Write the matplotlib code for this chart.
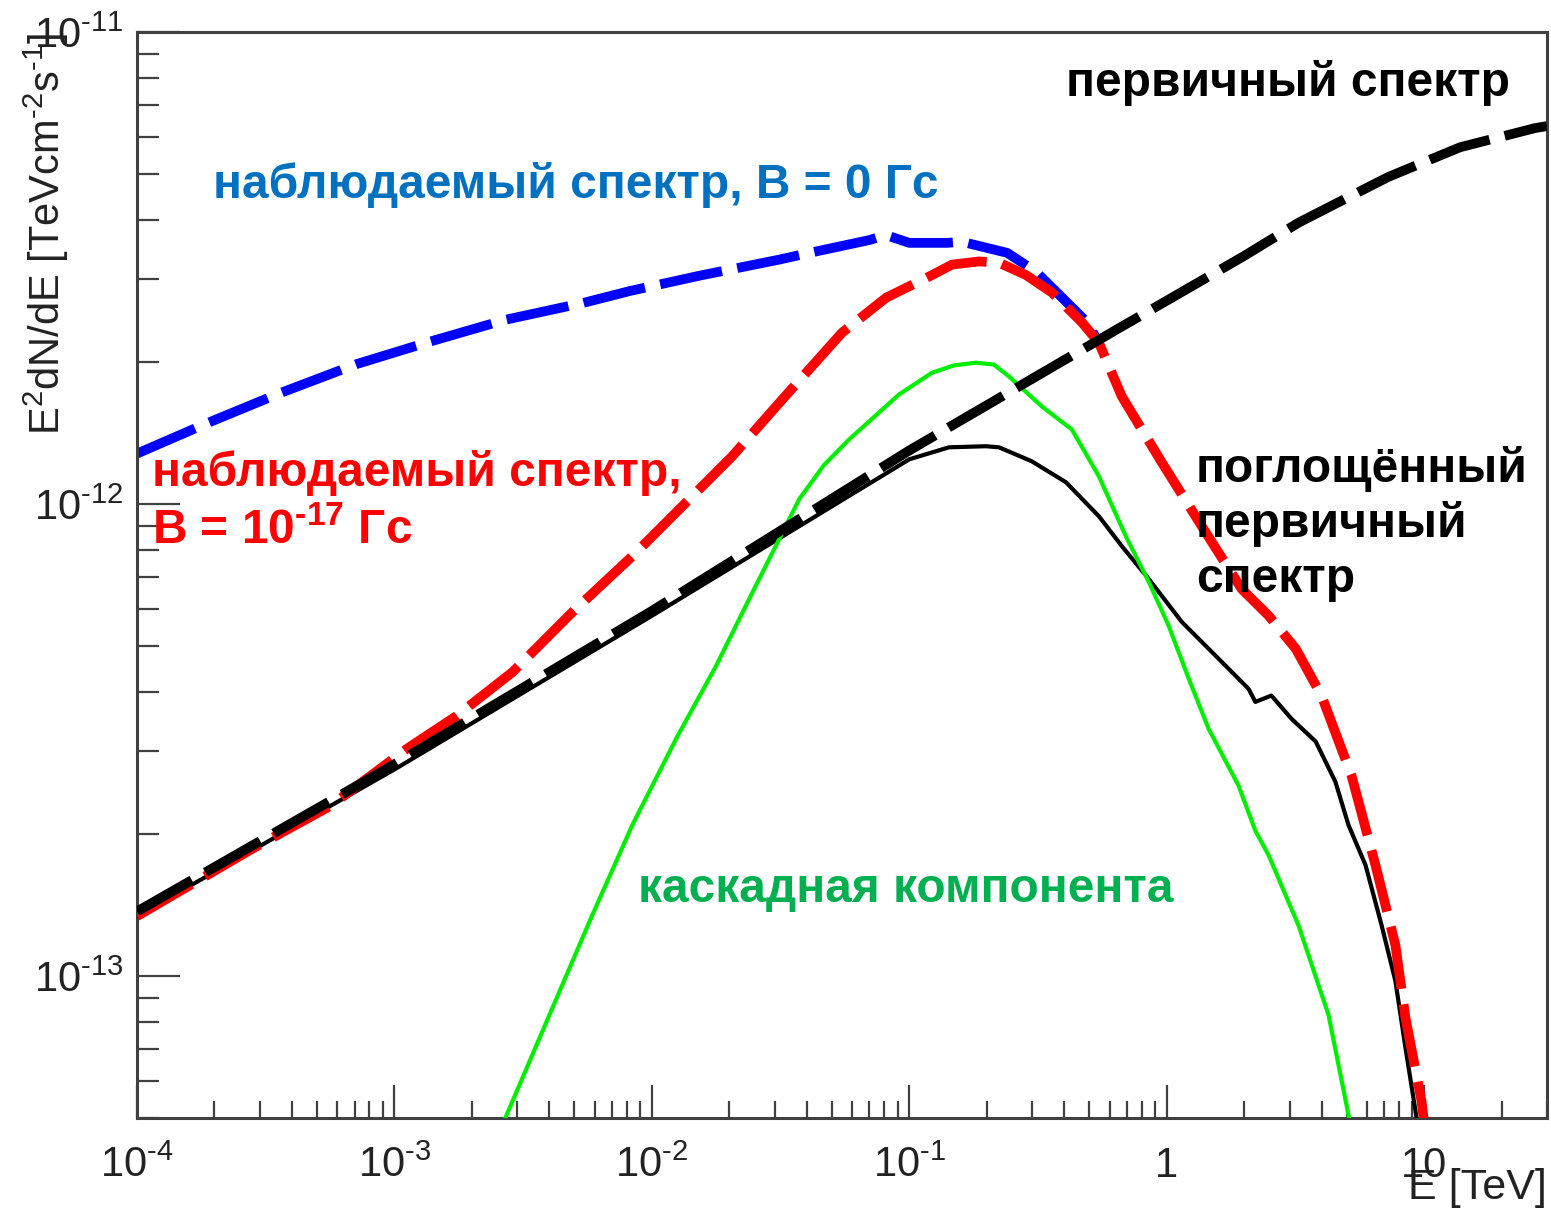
import numpy as np
import matplotlib
matplotlib.use('Agg')
import matplotlib.pyplot as plt
from matplotlib.ticker import LogLocator, NullFormatter

plt.rcParams['font.family'] = ['Liberation Sans', 'DejaVu Sans']
plt.rcParams['mathtext.fontset'] = 'custom'
plt.rcParams['mathtext.rm'] = 'Liberation Sans'
plt.rcParams['mathtext.it'] = 'Liberation Sans:italic'
plt.rcParams['mathtext.bf'] = 'Liberation Sans:bold'
plt.rcParams['mathtext.default'] = 'regular'

# ---------------- data (E in TeV, E^2 dN/dE in TeV cm^-2 s^-1) ----------------
primary_E = [1e-4, 1e-3, 1e-2, 0.1, 0.634, 1.0, 2.0, 3.25, 4.44, 7.26, 13.8, 27.0, 30.0]
primary_F = [1.37e-13, 2.81e-13, 5.94e-13, 1.30e-12, 2.34e-12, 2.70e-12, 3.36e-12,
             3.95e-12, 4.31e-12, 4.94e-12, 5.71e-12, 6.27e-12, 6.33e-12]

absorbed_E = [1e-4, 1e-3, 1e-2, 0.1, 0.1426, 0.1985, 0.223, 0.299, 0.406, 0.545,
              0.669, 0.852, 1.144, 1.55, 2.08, 2.21, 2.55, 3.05, 3.79, 4.52,
              5.08, 5.92, 6.83, 7.73, 8.46, 9.25, 9.6]
absorbed_F = [1.34e-13, 2.74e-13, 5.80e-13, 1.245e-12, 1.32e-12, 1.327e-12, 1.32e-12,
              1.233e-12, 1.113e-12, 9.43e-13, 8.15e-13, 6.94e-13, 5.63e-13, 4.77e-13,
              4.06e-13, 3.81e-13, 3.93e-13, 3.51e-13, 3.14e-13, 2.58e-13, 2.09e-13,
              1.717e-13, 1.282e-13, 9.76e-14, 7.04e-14, 5.18e-14, 4.5e-14]

cascade_E = [2.5e-3, 2.73e-3, 4.00e-3, 5.87e-3, 8.40e-3, 0.01245, 0.01779, 0.02389,
             0.03735, 0.0466, 0.0584, 0.0912, 0.1226, 0.149, 0.1815, 0.213, 0.2437,
             0.3274, 0.428, 0.545, 0.693, 0.852, 1.018, 1.217, 1.455, 1.902, 2.21,
             2.49, 3.25, 4.25, 5.08, 5.3]
cascade_F = [4.5e-14, 5.08e-14, 8.27e-14, 1.346e-13, 2.09e-13, 3.19e-13, 4.55e-13,
             6.30e-13, 1.025e-12, 1.21e-12, 1.372e-12, 1.708e-12, 1.90e-12, 1.968e-12,
             1.995e-12, 1.977e-12, 1.866e-12, 1.611e-12, 1.44e-12, 1.146e-12, 8.56e-13,
             6.84e-13, 5.52e-13, 4.27e-13, 3.34e-13, 2.53e-13, 2.03e-13, 1.80e-13,
             1.28e-13, 8.27e-14, 5.08e-14, 4.5e-14]

obs_B17_E = [1e-4, 2.74e-4, 5.61e-4, 1.117e-3, 1.746e-3, 2.88e-3, 4.92e-3, 8.40e-3,
             0.01313, 0.0205, 0.0321, 0.0548, 0.0813, 0.1226, 0.1466, 0.1865, 0.223,
             0.284, 0.358, 0.468, 0.545, 0.669, 0.956, 1.368, 1.955, 2.49, 3.17, 3.99,
             5.22, 6.47, 7.73, 8.46, 9.76, 10.2]
obs_B17_F = [1.339e-13, 1.847e-13, 2.29e-13, 3.03e-13, 3.56e-13, 4.41e-13, 5.91e-13,
             7.76e-13, 9.90e-13, 1.263e-12, 1.667e-12, 2.31e-12, 2.74e-12, 3.06e-12,
             3.22e-12, 3.27e-12, 3.25e-12, 3.06e-12, 2.81e-12, 2.43e-12, 2.20e-12,
             1.692e-12, 1.227e-12, 8.98e-13, 6.61e-13, 5.80e-13, 4.94e-13, 3.93e-13,
             2.66e-13, 1.717e-13, 1.163e-13, 8.15e-14, 5.44e-14, 4.5e-14]

obs_B0_E = [1.0e-4, 1.9e-4, 3.6e-4, 7.1e-4, 1.37e-3, 2.7e-3, 5.4e-3, 8.2e-3, 0.0153,
            0.0313, 0.041, 0.070, 0.081, 0.10, 0.14, 0.16, 0.24, 0.27, 0.31, 0.34,
            0.49, 0.545]
obs_B0_F = [1.28e-12, 1.49e-12, 1.72e-12, 1.98e-12, 2.21e-12, 2.46e-12, 2.67e-12,
            2.83e-12, 3.05e-12, 3.30e-12, 3.41e-12, 3.63e-12, 3.72e-12, 3.58e-12,
            3.58e-12, 3.60e-12, 3.41e-12, 3.27e-12, 3.11e-12, 2.96e-12, 2.43e-12,
            2.20e-12]

HY = '\u2010'
x_ticks = [1e-4, 1e-3, 1e-2, 1e-1, 1, 10]
x_tick_labels = [r'$10^{%s4}$' % HY, r'$10^{%s3}$' % HY, r'$10^{%s2}$' % HY,
                 r'$10^{%s1}$' % HY, '1', '10']
y_ticks = [1e-13, 1e-12, 1e-11]
y_tick_labels = [r'$10^{%s13}$' % HY, r'$10^{%s12}$' % HY, r'$10^{%s11}$' % HY]

# ---------------- figure ----------------
fig = plt.figure(figsize=(15.51, 12.14), dpi=100)
ax = fig.add_axes([137/1551, 1 - 1118/1214, (1547 - 137)/1551, (1118 - 32)/1214])

ax.plot(obs_B0_E, obs_B0_F, color='#0000ff', lw=7, dashes=(6.5, 1.6), zorder=2,
        dash_capstyle='butt', solid_joinstyle='round')
ax.plot(absorbed_E, absorbed_F, color='black', lw=3.0, zorder=3)
ax.plot(cascade_E, cascade_F, color='#00ee00', lw=3.0, zorder=3)
ax.plot(obs_B17_E, obs_B17_F, color='#ff0000', lw=7, dashes=(6.5, 1.6), zorder=4,
        dash_capstyle='butt')
ax.plot(primary_E, primary_F, color='black', lw=7, dashes=(6.5, 1.6), zorder=5,
        dash_capstyle='butt')

ax.set_xscale('log')
ax.set_yscale('log')
ax.set_xlim(1e-4, 30)
ax.set_ylim(5e-14, 1.002e-11)

ax.set_xticks(x_ticks)
ax.set_xticklabels(x_tick_labels)
ax.set_yticks(y_ticks)
ax.set_yticklabels(y_tick_labels)
ax.xaxis.set_minor_locator(LogLocator(base=10, subs=np.arange(2, 10)))
ax.yaxis.set_minor_locator(LogLocator(base=10, subs=np.arange(2, 10)))
ax.xaxis.set_minor_formatter(NullFormatter())
ax.yaxis.set_minor_formatter(NullFormatter())

spine_col = '#404040'
for s in ax.spines.values():
    s.set_color(spine_col)
    s.set_linewidth(2.2)

ax.tick_params(axis='x', which='major', direction='in', length=24, width=1.6,
               color=spine_col, labelsize=30, pad=20, labelcolor='#222222',
               top=False, bottom=True)
ax.tick_params(axis='x', which='minor', direction='in', length=12, width=1.6,
               color=spine_col, top=False, bottom=True)
ax.tick_params(axis='y', which='major', direction='in', length=31, width=1.6,
               color=spine_col, labelsize=30, pad=10, labelcolor='#222222',
               left=True, right=False)
ax.tick_params(axis='y', which='minor', direction='in', length=16, width=1.6,
               color=spine_col, left=True, right=False)

ax.set_xlabel('E [TeV]', fontsize=31, color='#222222', ha='right', va='top')
ax.xaxis.set_label_coords(1.0, -0.046)
ax.set_ylabel(r'E$^{2}$dN/dE [TeVcm$^{%s2}$s$^{%s1}$]' % (HY, HY), fontsize=30,
              color='#222222', ha='right', va='top')
ax.yaxis.set_label_coords(-0.0815, 1.0)

# ---------------- annotations ----------------
fs = 34.5
def ftext(px, py, s, color):
    fig.text(px / 1551, 1 - py / 1214, s, color=color, fontsize=fs,
             fontweight='bold', ha='left', va='baseline')

ftext(1066, 96, 'первичный спектр', 'black')
ftext(213, 198, 'наблюдаемый спектр, B = 0 Гс', '#0070c0')
ftext(152, 486, 'наблюдаемый спектр,', '#ff0000')
ftext(152, 544, r'B = 10$^{\mathbf{%s17}}$ Гс' % HY, '#ff0000')
ftext(1196, 482, 'поглощённый', 'black')
ftext(1196, 537, 'первичный', 'black')
ftext(1196, 592, 'спектр', 'black')
ftext(638, 902, 'каскадная компонента', '#00b050')

fig.savefig('out.png', dpi=100)
